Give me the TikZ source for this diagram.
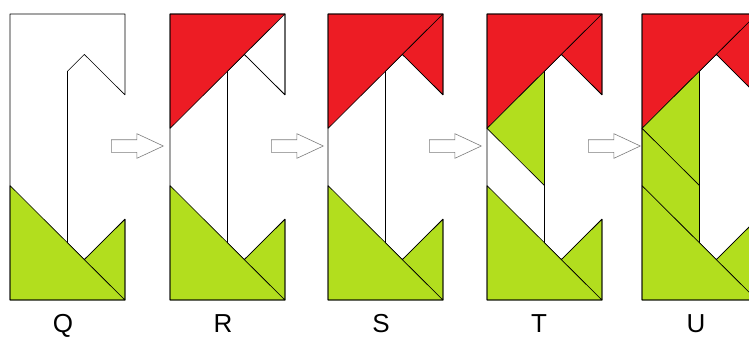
\documentclass[tikz,border=0pt]{standalone}
\usepackage{fontspec}
\setmainfont{Liberation Sans}
\usetikzlibrary{shapes.arrows}
\definecolor{tanred}{RGB}{237,28,36}
\definecolor{tangreen}{RGB}{178,222,30}
\definecolor{arrowgray}{RGB}{125,125,125}
\tikzset{
  piece/.style   = {draw=black, line width=0.6pt, line join=round},
  pgreen/.style  = {piece, fill=tangreen},
  pred/.style    = {piece, fill=tanred},
  pwhite/.style  = {piece, fill=white},
  % one panel: origin at its lower left corner, 2 x 5 units
  panel/.style   = {shift={(#1,300)}, x=57.5pt, y=57.2pt},
  blockarrow/.style = {single arrow, draw=arrowgray, fill=white, line width=0.6pt,
                       inner xsep=0pt, inner ysep=6pt, minimum height=52pt,
                       single arrow head extend=6pt, single arrow tip angle=50,
                       anchor=tail},
  tag/.style     = {font=\fontsize{26}{30}\selectfont, inner sep=0pt, anchor=base},
}
% pieces of the tangram C
\newcommand{\coutline}{(0,0) -- (2,0) -- (2,1.414) -- (1.293,0.707) -- (1,1) -- (1,4)
  -- (1.293,4.293) -- (2,3.586) -- (2,5) -- (0,5) -- cycle}
\newcommand{\bigtri}{(0,0) -- (2,0) -- (0,2) -- cycle}
\newcommand{\smalltri}{(1.293,0.707) -- (2,1.414) -- (2,0) -- cycle}
\newcommand{\topbig}{(0,5) -- (2,5) -- (0,3) -- cycle}
\newcommand{\topsmall}{(1.293,4.293) -- (2,3.586) -- (2,5) -- cycle}
\newcommand{\midtri}{(0,3) -- (1,4) -- (1,2) -- cycle}
\newcommand{\sidepar}{(0,3) -- (1,2) -- (1,1) -- (0,2) -- cycle}

\begin{document}
\begin{tikzpicture}[x=1pt, y=-1pt]
  \useasboundingbox (0,0) rectangle (749,337);
  \clip (0,0) rectangle (749,337);

  % Q
  \begin{scope}[panel=10]
    \fill[white] \coutline;
    \draw[pgreen] \bigtri;
    \draw[pgreen] \smalltri;
    \draw[piece] \coutline;
  \end{scope}

  % R
  \begin{scope}[panel=170]
    \fill[white] \coutline;
    \draw[pgreen] \bigtri;
    \draw[pgreen] \smalltri;
    \draw[pred] \topbig;
    \draw[pwhite] \topsmall;
    \draw[piece] \coutline;
  \end{scope}

  % S
  \begin{scope}[panel=328]
    \fill[white] \coutline;
    \draw[pgreen] \bigtri;
    \draw[pgreen] \smalltri;
    \draw[pred] \topbig;
    \draw[pred] \topsmall;
    \draw[piece] \coutline;
  \end{scope}

  % T
  \begin{scope}[panel=487]
    \fill[white] \coutline;
    \draw[pgreen] \bigtri;
    \draw[pgreen] \smalltri;
    \draw[pred] \topbig;
    \draw[pred] \topsmall;
    \draw[pgreen] \midtri;
    \draw[piece] \coutline;
  \end{scope}

  % U
  \begin{scope}[panel=642]
    \fill[white] \coutline;
    \draw[pgreen] \bigtri;
    \draw[pgreen] \smalltri;
    \draw[pred] \topbig;
    \draw[pred] \topsmall;
    \draw[pgreen] \midtri;
    \draw[pgreen] \sidepar;
    \draw[piece] \coutline;
  \end{scope}

  \node[blockarrow] (qr) at (111,146) {};
  \node[blockarrow] (rs) at (271,146) {};
  \node[blockarrow] (st) at (429,146) {};
  \node[blockarrow] (tu) at (588,146) {};

  \node[tag] (lq) at (63,332)  {Q};
  \node[tag] (lr) at (223,332) {R};
  \node[tag] (ls) at (381,332) {S};
  \node[tag] (lt) at (539,332) {T};
  \node[tag] (lu) at (696,332) {U};
\end{tikzpicture}
\end{document}
